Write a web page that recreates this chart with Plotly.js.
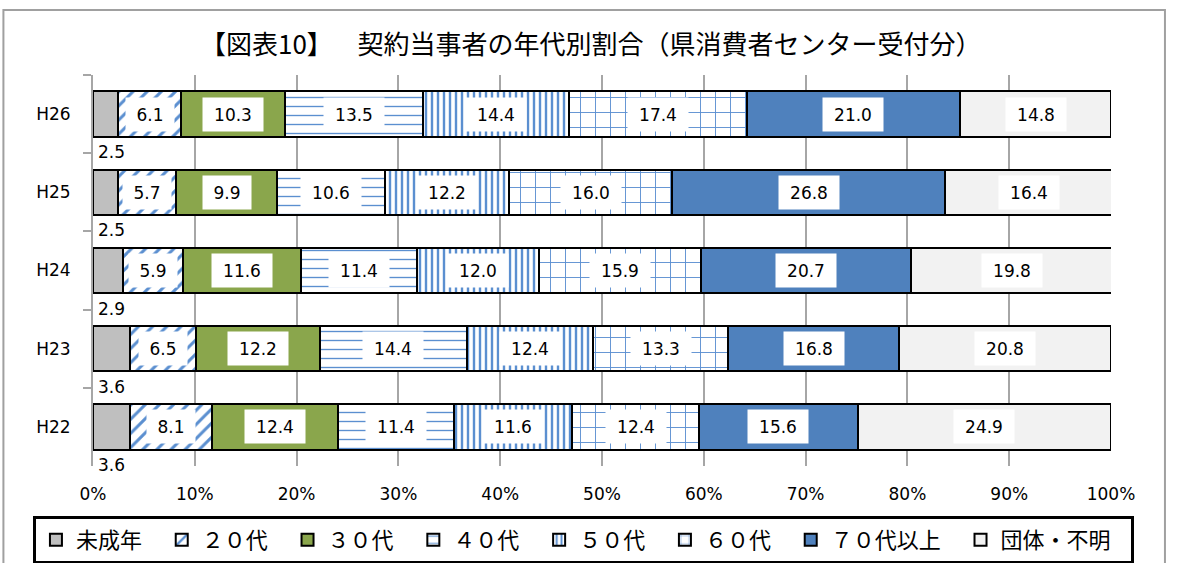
<!DOCTYPE html>
<html>
<head>
<meta charset="utf-8">
<script src="https://cdn.plot.ly/plotly-3.0.1.min.js"></script>
<style>html,body{margin:0;padding:0;background:#fff;}#chart{width:1179px;height:563px;}</style>
</head>
<body>
<div id="chart"></div>
<script>
const categories = ["H26", "H25", "H24", "H23", "H22"];
const seriesNames = ["未成年", "２０代", "３０代", "４０代", "５０代", "６０代", "７０代以上", "団体・不明"];
const v_minor   = [2.5, 2.5, 2.9, 3.6, 3.6];
const v_20s     = [6.1, 5.7, 5.9, 6.5, 8.1];
const v_30s     = [10.3, 9.9, 11.6, 12.2, 12.4];
const v_40s     = [13.5, 10.6, 11.4, 14.4, 11.4];
const v_50s     = [14.4, 12.2, 12.0, 12.4, 11.6];
const v_60s     = [17.4, 16.0, 15.9, 13.3, 12.4];
const v_70plus  = [21.0, 26.8, 20.7, 16.8, 15.6];
const v_group   = [14.8, 16.4, 19.8, 20.8, 24.9];
const seriesValues = [v_minor, v_20s, v_30s, v_40s, v_50s, v_60s, v_70plus, v_group];
const xTickVals = [0,10,20,30,40,50,60,70,80,90,100];
const xTickText = ["0%","10%","20%","30%","40%","50%","60%","70%","80%","90%","100%"];
const chartTitle = "【図表10】　\u00a0\u00a0契約当事者の年代別割合（県消費者センター受付分）";

const blue = "#5B8FD0";
const styles = [
  {color: "#BFBFBF"},
  {color: "#FFFFFF", pattern: {shape: "/", fgcolor: blue, bgcolor: "#FFFFFF", size: 10, solidity: 0.3}},
  {color: "#8AA64C"},
  {color: "#FFFFFF", pattern: {shape: "-", fgcolor: blue, bgcolor: "#FFFFFF", size: 9, solidity: 0.15}},
  {color: "#FFFFFF", pattern: {shape: "|", fgcolor: blue, bgcolor: "#FFFFFF", size: 6, solidity: 0.4}},
  {color: "#FFFFFF", pattern: {shape: "+", fgcolor: blue, bgcolor: "#FFFFFF", size: 15, solidity: 0.12}},
  {color: "#4F81BD"},
  {color: "#F2F2F2"}
];

const pad = "\u00a0\u00a0\u00a0";
const traces = seriesNames.map((name, i) => {
  const m = {color: styles[i].color, line: {color: "#000000", width: 2}};
  if (styles[i].pattern) m.pattern = styles[i].pattern;
  return {
    type: "bar", orientation: "h", name: name + pad,
    y: categories, x: seriesValues[i],
    marker: m, hoverinfo: "x+name"
  };
});

const labelFont = {family: "DejaVu Sans, Verdana, sans-serif", size: 17, color: "#000"};
const annotations = [];
categories.forEach((cat, j) => {
  let cum = 0;
  seriesValues.forEach((vals, i) => {
    const v = vals[j];
    const txt = v.toFixed(1);
    if (i === 0) {
      annotations.push({x: 0, y: cat, xref: "x", yref: "y", text: txt, showarrow: false,
        xanchor: "left", yanchor: "middle", xshift: 3, yshift: -38, font: labelFont});
    } else {
      annotations.push({x: cum + v / 2, y: cat, xref: "x", yref: "y", text: txt, showarrow: false,
        xanchor: "center", yanchor: "middle", bgcolor: "#FFFFFF",
        width: txt.length >= 4 ? 58 : 46, height: 31, font: labelFont});
    }
    cum += v;
  });
});

annotations.push({xref: "paper", yref: "paper", x: 0.489, y: 1.0, yshift: 33, text: chartTitle,
  showarrow: false, xanchor: "center", yanchor: "middle",
  font: {family: "Noto Sans CJK JP, sans-serif", size: 26, color: "#000"}});

const layout = {
  width: 1179, height: 563,
  margin: {l: 93, r: 68, t: 75, b: 97, autoexpand: false},
  paper_bgcolor: "#FFFFFF", plot_bgcolor: "#FFFFFF",
  barmode: "stack", bargap: 0.42,
  showlegend: true,
  legend: {orientation: "h", x: -0.059, xanchor: "left", y: -0.128, yanchor: "top",
    bordercolor: "#000000", borderwidth: 3, bgcolor: "#FFFFFF",
    font: {family: "Noto Sans CJK JP, sans-serif", size: 22, color: "#000"},
    traceorder: "normal", itemwidth: 30},
  xaxis: {range: [0, 100], tickvals: xTickVals, ticktext: xTickText, showgrid: true,
    gridcolor: "#A6A6A6", gridwidth: 2, zeroline: false, showline: false, ticks: "",
    ticklabelstandoff: 16, fixedrange: true,
    tickfont: {family: "DejaVu Sans, Verdana, sans-serif", size: 17, color: "#000"}},
  yaxis: {type: "category", categoryorder: "array", categoryarray: categories,
    autorange: false, range: [4.5, -0.5], showgrid: false, zeroline: false,
    showline: true, linecolor: "#A6A6A6", linewidth: 2,
    ticks: "outside", tickson: "boundaries", ticklen: 8, tickcolor: "#A6A6A6", tickwidth: 2,
    ticklabelstandoff: 17,
    tickfont: {family: "DejaVu Sans, Verdana, sans-serif", size: 17, color: "#000"}},
  annotations: annotations,
  shapes: [
    {type: "rect", xref: "paper", yref: "paper", x0: -0.088, x1: 1.053, y0: -0.3, y1: 1.166,
     line: {color: "#A0A0A0", width: 2}, fillcolor: "rgba(0,0,0,0)", layer: "below"}
  ]
};

Plotly.newPlot("chart", traces, layout, {displayModeBar: false, staticPlot: true});
</script>
</body>
</html>
